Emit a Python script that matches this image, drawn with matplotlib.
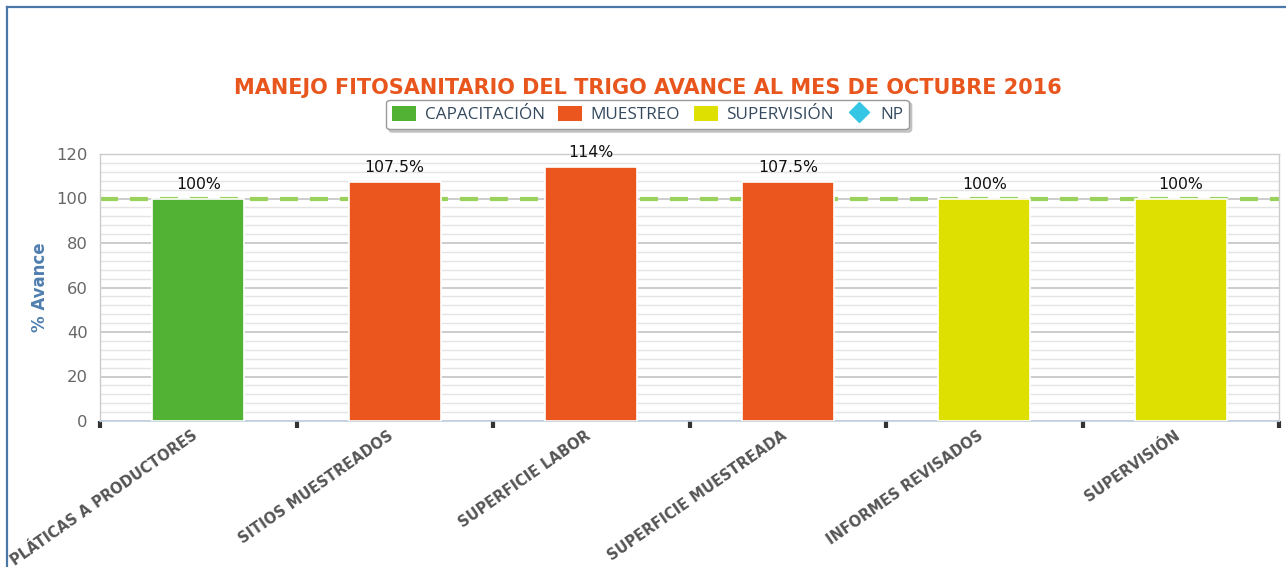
import matplotlib
matplotlib.use("Agg")
import matplotlib.pyplot as plt
from matplotlib.patches import Patch
from matplotlib.lines import Line2D
from matplotlib.transforms import ScaledTranslation
import numpy as np

categories = ["PLÁTICAS A PRODUCTORES", "SITIOS MUESTREADOS", "SUPERFICIE LABOR",
              "SUPERFICIE MUESTREADA", "INFORMES REVISADOS", "SUPERVISIÓN"]
values = [100, 107.5, 114, 107.5, 100, 100]
labels = ["100%", "107.5%", "114%", "107.5%", "100%", "100%"]
groups = ["CAPACITACIÓN", "MUESTREO", "MUESTREO", "MUESTREO", "SUPERVISIÓN", "SUPERVISIÓN"]
legend_names = ["CAPACITACIÓN", "MUESTREO", "SUPERVISIÓN", "NP"]
target = 100
title = "MANEJO FITOSANITARIO DEL TRIGO AVANCE AL MES DE OCTUBRE 2016"

colors = {"CAPACITACIÓN": "#52b234", "MUESTREO": "#ea561d", "SUPERVISIÓN": "#dde000", "NP": "#35c6e6"}

fig = plt.figure(figsize=(12.86, 5.67), dpi=100)
ax = fig.add_axes([100/1286, 1-421/567, (1279-100)/1286, (421-154)/567])

x = np.arange(len(categories))
ax.bar(x, values, width=0.47, color=[colors[g] for g in groups], edgecolor="white",
       linewidth=1.2, zorder=3)
for xi, v, lab in zip(x, values, labels):
    ax.annotate(lab, (xi, v), xytext=(0, 5), textcoords="offset points", ha="center",
                va="bottom", fontsize=11.3, color="#111111", zorder=5)

ax.axhline(target, color="#98d25a", lw=3, dashes=(4.3, 2.9), zorder=2)

ax.set_xlim(-0.5, len(categories) - 0.5)
ax.set_ylim(0, 120)
ax.set_yticks(np.arange(0, 121, 20))
ax.set_yticks(np.arange(0, 121, 4), minor=True)
ax.grid(axis="y", which="major", color="#c4c4c4", lw=1.2, zorder=0)
ax.grid(axis="y", which="minor", color="#e4e4e4", lw=1, zorder=0)
ax.set_axisbelow(True)
ax.tick_params(axis="y", which="both", length=0, labelsize=11.8, labelcolor="#666666", pad=9)

ax.set_xticks(x)
ax.set_xticklabels(categories, rotation=35, ha="right", va="top", rotation_mode="anchor",
                   fontsize=10.5, fontweight="bold", color="#555555")
ax.tick_params(axis="x", which="major", length=0, pad=5)
shift = ScaledTranslation(-7/100, 0, fig.dpi_scale_trans)
for t in ax.get_xticklabels():
    t.set_transform(t.get_transform() + shift)
ax.set_xticks(np.arange(-0.5, len(categories), 1), minor=True)
ax.tick_params(axis="x", which="minor", length=5, width=3, color="#333333", direction="out")

for s in ["top", "left", "right"]:
    ax.spines[s].set_color("#cccccc")
    ax.spines[s].set_linewidth(1)
ax.spines["bottom"].set_color("#c0d0e0")
ax.spines["bottom"].set_linewidth(1.2)

ax.set_ylabel("% Avance", fontsize=12, fontweight="bold", color="#4f7faf", labelpad=5)

fig.text(0.504, 1-88/567, title, ha="center", va="center", fontsize=15, fontweight="bold",
         color="#e8561e")

handles = [Patch(facecolor=colors[n], edgecolor="none") for n in legend_names[:3]]
handles.append(Line2D([], [], marker="D", color=colors["NP"], linestyle="none", markersize=10))
leg = fig.legend(handles, legend_names, loc="center", bbox_to_anchor=(647.5/1286, 1-114.5/567),
                 ncol=4, frameon=True, handlelength=1.4, handleheight=1.05,
                 handletextpad=0.5, columnspacing=0.8, borderpad=0.35, fancybox=True,
                 shadow={"color": "#bbbbbb", "alpha": 0.8},
                 prop={"family": "Open Sans", "size": 12.3})
leg.get_frame().set_edgecolor("#999999")
leg.get_frame().set_linewidth(1)
for t in leg.get_texts():
    t.set_color("#34495e")

# figure border lines (top & left)
fig.add_artist(Line2D([7/1286, 1], [1-7/567, 1-7/567], color="#4a78a8", lw=1.6))
fig.add_artist(Line2D([7/1286, 7/1286], [0, 1-7/567], color="#4a78a8", lw=1.6))

fig.savefig("out.png", dpi=100)
